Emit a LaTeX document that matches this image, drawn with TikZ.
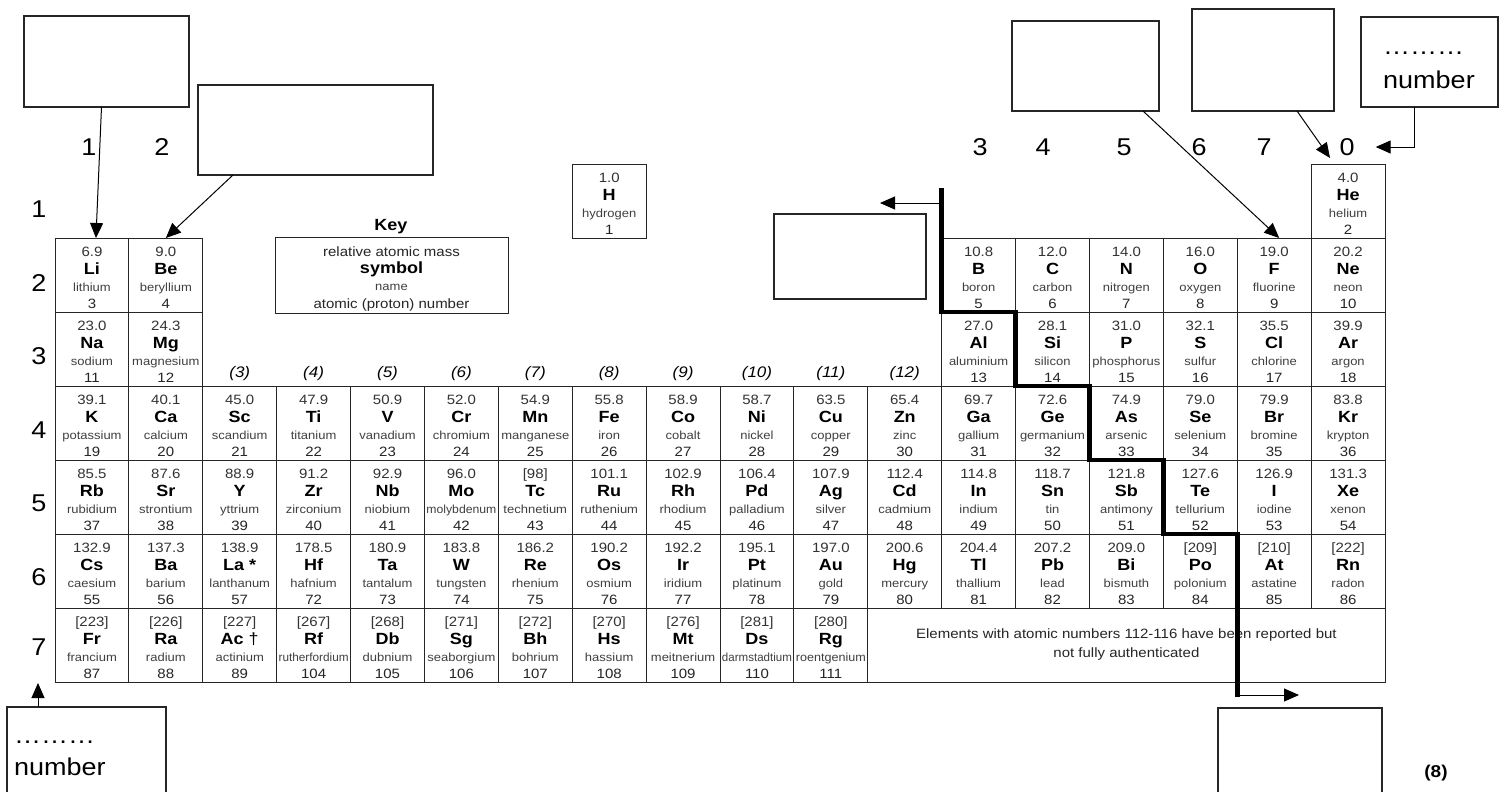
\documentclass[tikz,border=0pt]{standalone}
\usepackage{fontspec}
\setmainfont{Liberation Sans}
\usepackage{graphicx}
\usetikzlibrary{arrows.meta}
\newsavebox\nmbox
\newcommand\vs[1]{\scalebox{1}[0.9]{#1}}
\newcommand\fitname[1]{\sbox\nmbox{#1}\ifdim\wd\nmbox>70pt\resizebox{70pt}{\height}{\usebox\nmbox}\else\usebox\nmbox\fi}
\newcommand\el[7]{%
  \pgfmathsetmacro\elx{55+(#1-0.5)*73.89}%
  \pgfmathsetmacro\ely{238+(#2-2)*74}%
  \node[cell] (#7) at (\elx,\ely+37) {};
  \node[mass] (#7m) at (\elx,\ely+18) {\vs{#3}};
  \node[sym] (#7s) at (\elx,\ely+36) {\vs{#4}};
  \node[nm] (#7n) at (\elx,\ely+53) {\vs{\fitname{#5}}};
  \node[num] (#7z) at (\elx,\ely+70.5) {\vs{#6}};
}
\tikzset{
  cell/.style={draw=black!85, line width=0.9pt, minimum width=73.89pt, minimum height=74pt, inner sep=0pt, outer sep=0pt},
  mass/.style={anchor=base, inner sep=0pt, font=\fontsize{15}{15}\selectfont, text=black!80},
  sym/.style={anchor=base, inner sep=0pt, font=\fontsize{18}{18}\selectfont\bfseries},
  nm/.style={anchor=base, inner sep=0pt, font=\fontsize{13}{13}\selectfont, text=black!75},
  num/.style={anchor=base, inner sep=0pt, font=\fontsize{15}{15}\selectfont, text=black!85},
  big/.style={inner sep=0pt, font=\fontsize{27}{27}\selectfont},
  grp/.style={inner sep=0pt, font=\fontsize{17}{17}\selectfont\itshape},
  box/.style={draw=black!85, line width=1.1pt, inner sep=0pt, outer sep=0pt},
  conn/.style={line width=1pt, -{Triangle[length=15pt,width=13pt]}},
  zigzag/.style={line width=4.8pt, miter limit=10},
}
\begin{document}
\begin{tikzpicture}[x=1pt,y=-1pt]
\useasboundingbox (0,0) rectangle (1499,792);
\fill[white] (0,0) rectangle (1499,792);

% period labels
\node[big] (p1) at (39,209) {\vs{1}};
\node[big] (p2) at (39,283) {\vs{2}};
\node[big] (p3) at (39,356) {\vs{3}};
\node[big] (p4) at (39,430) {\vs{4}};
\node[big] (p5) at (39,503) {\vs{5}};
\node[big] (p6) at (39,577) {\vs{6}};
\node[big] (p7) at (39,647) {\vs{7}};
% group labels
\node[big] (g1) at (89,147) {\vs{1}};
\node[big] (g2) at (162,147) {\vs{2}};
\node[big] (g3) at (980,147) {\vs{3}};
\node[big] (g4) at (1043,147) {\vs{4}};
\node[big] (g5) at (1124,147) {\vs{5}};
\node[big] (g6) at (1199,147) {\vs{6}};
\node[big] (g7) at (1264,147) {\vs{7}};
\node[big] (g0) at (1347,147) {\vs{0}};
% transition group labels
\foreach \c in {3,...,12}{
  \node[grp] (tg\c) at ({55+(\c-0.5)*73.89},374) {\vs{(\c)}};
}

% key
\node[inner sep=0pt, font=\fontsize{18}{18}\selectfont\bfseries] (keyT) at (391,227) {\vs{Key}};
\node[box, line width=0.9pt, minimum width=233pt, minimum height=76pt] (key) at (391.5,275) {};
\node[mass, text=black!85] (keyA) at (391.5,256) {\vs{relative atomic mass}};
\node[sym] (keyB) at (391.5,273) {\vs{symbol}};
\node[nm] (keyC) at (391.5,290) {\vs{name}};
\node[mass, text=black!85] (keyD) at (391.5,308) {\vs{atomic (proton) number}};

% elements
\el{8}{1}{1.0}{H}{hydrogen}{1}{eH}
\el{18}{1}{4.0}{He}{helium}{2}{eHe}

\el{1}{2}{6.9}{Li}{lithium}{3}{eLi}
\el{2}{2}{9.0}{Be}{beryllium}{4}{eBe}
\el{13}{2}{10.8}{B}{boron}{5}{eB}
\el{14}{2}{12.0}{C}{carbon}{6}{eC}
\el{15}{2}{14.0}{N}{nitrogen}{7}{eN}
\el{16}{2}{16.0}{O}{oxygen}{8}{eO}
\el{17}{2}{19.0}{F}{fluorine}{9}{eF}
\el{18}{2}{20.2}{Ne}{neon}{10}{eNe}

\el{1}{3}{23.0}{Na}{sodium}{11}{eNa}
\el{2}{3}{24.3}{Mg}{magnesium}{12}{eMg}
\el{13}{3}{27.0}{Al}{aluminium}{13}{eAl}
\el{14}{3}{28.1}{Si}{silicon}{14}{eSi}
\el{15}{3}{31.0}{P}{phosphorus}{15}{eP}
\el{16}{3}{32.1}{S}{sulfur}{16}{eS}
\el{17}{3}{35.5}{Cl}{chlorine}{17}{eCl}
\el{18}{3}{39.9}{Ar}{argon}{18}{eAr}

\el{1}{4}{39.1}{K}{potassium}{19}{eK}
\el{2}{4}{40.1}{Ca}{calcium}{20}{eCa}
\el{3}{4}{45.0}{Sc}{scandium}{21}{eSc}
\el{4}{4}{47.9}{Ti}{titanium}{22}{eTi}
\el{5}{4}{50.9}{V}{vanadium}{23}{eV}
\el{6}{4}{52.0}{Cr}{chromium}{24}{eCr}
\el{7}{4}{54.9}{Mn}{manganese}{25}{eMn}
\el{8}{4}{55.8}{Fe}{iron}{26}{eFe}
\el{9}{4}{58.9}{Co}{cobalt}{27}{eCo}
\el{10}{4}{58.7}{Ni}{nickel}{28}{eNi}
\el{11}{4}{63.5}{Cu}{copper}{29}{eCu}
\el{12}{4}{65.4}{Zn}{zinc}{30}{eZn}
\el{13}{4}{69.7}{Ga}{gallium}{31}{eGa}
\el{14}{4}{72.6}{Ge}{germanium}{32}{eGe}
\el{15}{4}{74.9}{As}{arsenic}{33}{eAs}
\el{16}{4}{79.0}{Se}{selenium}{34}{eSe}
\el{17}{4}{79.9}{Br}{bromine}{35}{eBr}
\el{18}{4}{83.8}{Kr}{krypton}{36}{eKr}

\el{1}{5}{85.5}{Rb}{rubidium}{37}{eRb}
\el{2}{5}{87.6}{Sr}{strontium}{38}{eSr}
\el{3}{5}{88.9}{Y}{yttrium}{39}{eY}
\el{4}{5}{91.2}{Zr}{zirconium}{40}{eZr}
\el{5}{5}{92.9}{Nb}{niobium}{41}{eNb}
\el{6}{5}{96.0}{Mo}{molybdenum}{42}{eMo}
\el{7}{5}{[98]}{Tc}{technetium}{43}{eTc}
\el{8}{5}{101.1}{Ru}{ruthenium}{44}{eRu}
\el{9}{5}{102.9}{Rh}{rhodium}{45}{eRh}
\el{10}{5}{106.4}{Pd}{palladium}{46}{ePd}
\el{11}{5}{107.9}{Ag}{silver}{47}{eAg}
\el{12}{5}{112.4}{Cd}{cadmium}{48}{eCd}
\el{13}{5}{114.8}{In}{indium}{49}{eIn}
\el{14}{5}{118.7}{Sn}{tin}{50}{eSn}
\el{15}{5}{121.8}{Sb}{antimony}{51}{eSb}
\el{16}{5}{127.6}{Te}{tellurium}{52}{eTe}
\el{17}{5}{126.9}{I}{iodine}{53}{eI}
\el{18}{5}{131.3}{Xe}{xenon}{54}{eXe}

\el{1}{6}{132.9}{Cs}{caesium}{55}{eCs}
\el{2}{6}{137.3}{Ba}{barium}{56}{eBa}
\el{3}{6}{138.9}{La *}{lanthanum}{57}{eLa}
\el{4}{6}{178.5}{Hf}{hafnium}{72}{eHf}
\el{5}{6}{180.9}{Ta}{tantalum}{73}{eTa}
\el{6}{6}{183.8}{W}{tungsten}{74}{eW}
\el{7}{6}{186.2}{Re}{rhenium}{75}{eRe}
\el{8}{6}{190.2}{Os}{osmium}{76}{eOs}
\el{9}{6}{192.2}{Ir}{iridium}{77}{eIr}
\el{10}{6}{195.1}{Pt}{platinum}{78}{ePt}
\el{11}{6}{197.0}{Au}{gold}{79}{eAu}
\el{12}{6}{200.6}{Hg}{mercury}{80}{eHg}
\el{13}{6}{204.4}{Tl}{thallium}{81}{eTl}
\el{14}{6}{207.2}{Pb}{lead}{82}{ePb}
\el{15}{6}{209.0}{Bi}{bismuth}{83}{eBi}
\el{16}{6}{[209]}{Po}{polonium}{84}{ePo}
\el{17}{6}{[210]}{At}{astatine}{85}{eAt}
\el{18}{6}{[222]}{Rn}{radon}{86}{eRn}

\el{1}{7}{[223]}{Fr}{francium}{87}{eFr}
\el{2}{7}{[226]}{Ra}{radium}{88}{eRa}
\el{3}{7}{[227]}{Ac {\mdseries †}}{actinium}{89}{eAc}
\el{4}{7}{[267]}{Rf}{rutherfordium}{104}{eRf}
\el{5}{7}{[268]}{Db}{dubnium}{105}{eDb}
\el{6}{7}{[271]}{Sg}{seaborgium}{106}{eSg}
\el{7}{7}{[272]}{Bh}{bohrium}{107}{eBh}
\el{8}{7}{[270]}{Hs}{hassium}{108}{eHs}
\el{9}{7}{[276]}{Mt}{meitnerium}{109}{eMt}
\el{10}{7}{[281]}{Ds}{darmstadtium}{110}{eDs}
\el{11}{7}{[280]}{Rg}{roentgenium}{111}{eRg}

\node[cell, minimum width=517.2pt] (note) at (1126.4,645) {};
\node[inner sep=0pt, align=center, font=\fontsize{15}{19}\selectfont, text=black!85] (noteT) at (1126.4,645)
  {\vs{Elements with atomic numbers 112-116 have been reported but}\\\vs{not fully authenticated}};

% thick boundary line
\coordinate (t0) at (941.7,188);
\coordinate (t1) at (941.7,312);
\coordinate (t2) at (1015.6,312);
\coordinate (t3) at (1015.6,386);
\coordinate (t4) at (1089.5,386);
\coordinate (t5) at (1089.5,460);
\coordinate (t6) at (1163.4,460);
\coordinate (t7) at (1163.4,534);
\coordinate (t8) at (1237.2,534);
\coordinate (t9) at (1237.2,697);
\draw[zigzag] (t0) -- (t1) -- (t2) -- (t3) -- (t4) -- (t5) -- (t6) -- (t7) -- (t8) -- (t9);

% answer boxes
\node[box, minimum width=165pt, minimum height=91pt] (bA) at (106.5,61.5) {};
\node[box, minimum width=235pt, minimum height=90pt] (bB) at (315.5,130) {};
\node[box, minimum width=152pt, minimum height=85pt] (bC) at (850,256.5) {};
\node[box, minimum width=147pt, minimum height=90pt] (bD) at (1085.5,66) {};
\node[box, minimum width=142pt, minimum height=102pt] (bE) at (1263,60) {};
\node[box, minimum width=137pt, minimum height=90pt] (bF) at (1429.5,62) {};
\node[big, anchor=west] (bFa) at (1383,53) {\vs{………}};
\node[big, anchor=west] (bFb) at (1383,80) {\vs{number}};
\node[box, minimum width=159pt, minimum height=88pt] (bG) at (86.5,751) {};
\node[big, anchor=west] (bGa) at (14,742) {\vs{………}};
\node[big, anchor=west] (bGb) at (14,767) {\vs{number}};
\node[box, minimum width=164pt, minimum height=86pt] (bH) at (1300,751) {};

\node[inner sep=0pt, font=\fontsize{19}{19}\selectfont\bfseries] (marks) at (1436,773) {\vs{(8)}};

% connectors
\coordinate (tL) at (941.7,203);
\coordinate (cTip) at (880,203);
\coordinate (tB) at (1237.2,695);
\coordinate (hTip) at (1299,695);
\coordinate (zTip) at (1330,158);
\coordinate (p7tip) at (38,683);
\draw[conn] ([xshift=-5pt]bA.south) -- ([xshift=4pt]eLi.north);
\draw[conn] ([xshift=-82.5pt]bB.south) -- (eBe.north);
\draw[conn] ([xshift=57.5pt]bD.south) -- ([xshift=5pt]eF.north);
\draw[conn] ([xshift=34pt]bE.south) -- (zTip);
\draw[conn] ([xshift=-15.5pt]bF.south) |- ([xshift=21pt]g0.east);
\draw[conn] ([xshift=-48.5pt]bG.north) -- (p7tip);
\draw[conn] (tL) -- (cTip);
\draw[conn] (tB) -- (hTip);
\end{tikzpicture}
\end{document}
